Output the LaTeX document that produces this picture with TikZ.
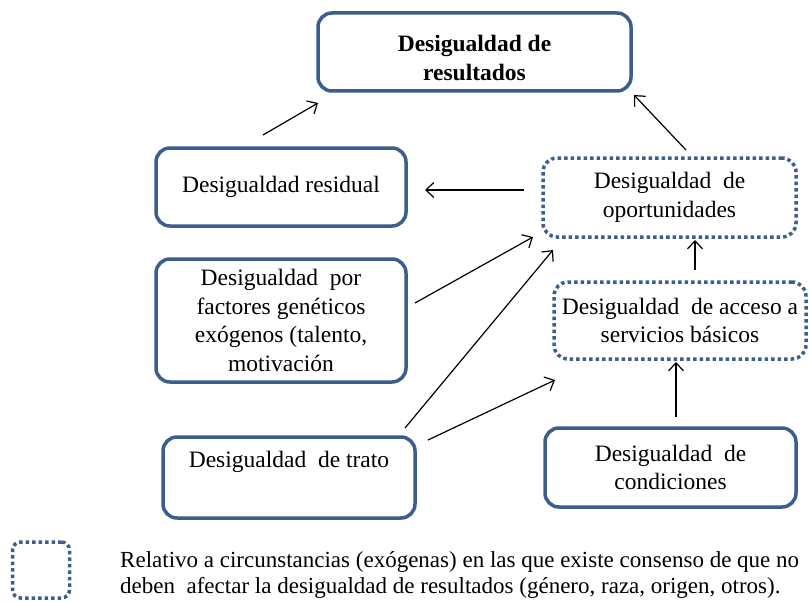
\documentclass[tikz,border=0pt]{standalone}
\usepackage{fontspec}
\setmainfont{Liberation Serif}
\usetikzlibrary{arrows.meta}
\definecolor{boxblue}{RGB}{60,94,140}
\tikzset{
  solidbox/.style={draw=boxblue, line width=3.5pt, rounded corners=14pt, align=center, inner sep=2pt},
  dotbox/.style={draw=boxblue, line width=3.5pt, rounded corners=14pt, align=center, inner sep=2pt,
     dash pattern=on 3.5pt off 3pt},
  arr/.style={draw=black, line width=1.2pt, -{Straight Barb[length=8pt,width=15pt,line width=1.2pt]}},
  txt/.style={font=\fontsize{23.5}{28.5}\selectfont}
}
\begin{document}
\begin{tikzpicture}[x=1pt,y=-1pt]
\useasboundingbox (0,0) rectangle (809,602);
\node[solidbox, minimum width=313pt, minimum height=78pt] (res) at (474.5,52) {};
\node[align=center, inner sep=0pt, font=\fontsize{23.5}{28.5}\selectfont\bfseries] (restxt) at (474.5,58) {Desigualdad de\\resultados};
\node[solidbox, txt, minimum width=250pt, minimum height=78pt] (resid) at (281,187) {Desigualdad residual};
\node[solidbox, txt, minimum width=250pt, minimum height=123pt] (gen) at (281,320.5) {Desigualdad \ por\\factores genéticos\\exógenos (talento,\\motivación};
\node[solidbox, txt, minimum width=252pt, minimum height=81pt] (trato) at (289,477.5) {Desigualdad \ de trato\\\strut};
\node[dotbox, txt, minimum width=253pt, minimum height=79pt] (oport) at (669.5,197.5) {Desigualdad \ de\\oportunidades};
\node[dotbox, txt, minimum width=252pt, minimum height=77pt] (acc) at (680,320.5) {Desigualdad \ de acceso a\\servicios básicos};
\node[solidbox, txt, minimum width=251pt, minimum height=79pt] (cond) at (670.5,467.5) {Desigualdad \ de\\condiciones};
\node[dotbox, minimum width=57pt, minimum height=56pt, rounded corners=8pt, inner sep=0pt] (leg) at (41,570) {};
\node[anchor=west, align=left, inner sep=0pt, font=\fontsize{23}{26}\selectfont] (legtxt) at (120,575) {Relativo a circunstancias (exógenas) en las que existe consenso de que no\\deben \ afectar la desigualdad de resultados (género, raza, origen, otros).};
% connector end points
\coordinate (a1s) at (263,135); \coordinate (a1e) at (318,103);
\coordinate (a2s) at (686,150); \coordinate (a2e) at (634,95);
\coordinate (a3s) at (524,190); \coordinate (a3e) at (425,190);
\coordinate (a4s) at (415,303); \coordinate (a4e) at (533,237);
\coordinate (a5s) at (405,428); \coordinate (a5e) at (553,250);
\coordinate (a6s) at (428,440); \coordinate (a6e) at (555,380);
\coordinate (a7s) at (695,270); \coordinate (a7e) at (695,240);
\coordinate (a8s) at (676,417); \coordinate (a8e) at (676,362);
\draw[arr] (a1s) -- (a1e);
\draw[arr] (a2s) -- (a2e);
\draw[arr] (a3s) -- (a3e);
\draw[arr] (a4s) -- (a4e);
\draw[arr] (a5s) -- (a5e);
\draw[arr] (a6s) -- (a6e);
\draw[arr] (a7s) -- (a7e);
\draw[arr] (a8s) -- (a8e);
\end{tikzpicture}
\end{document}
